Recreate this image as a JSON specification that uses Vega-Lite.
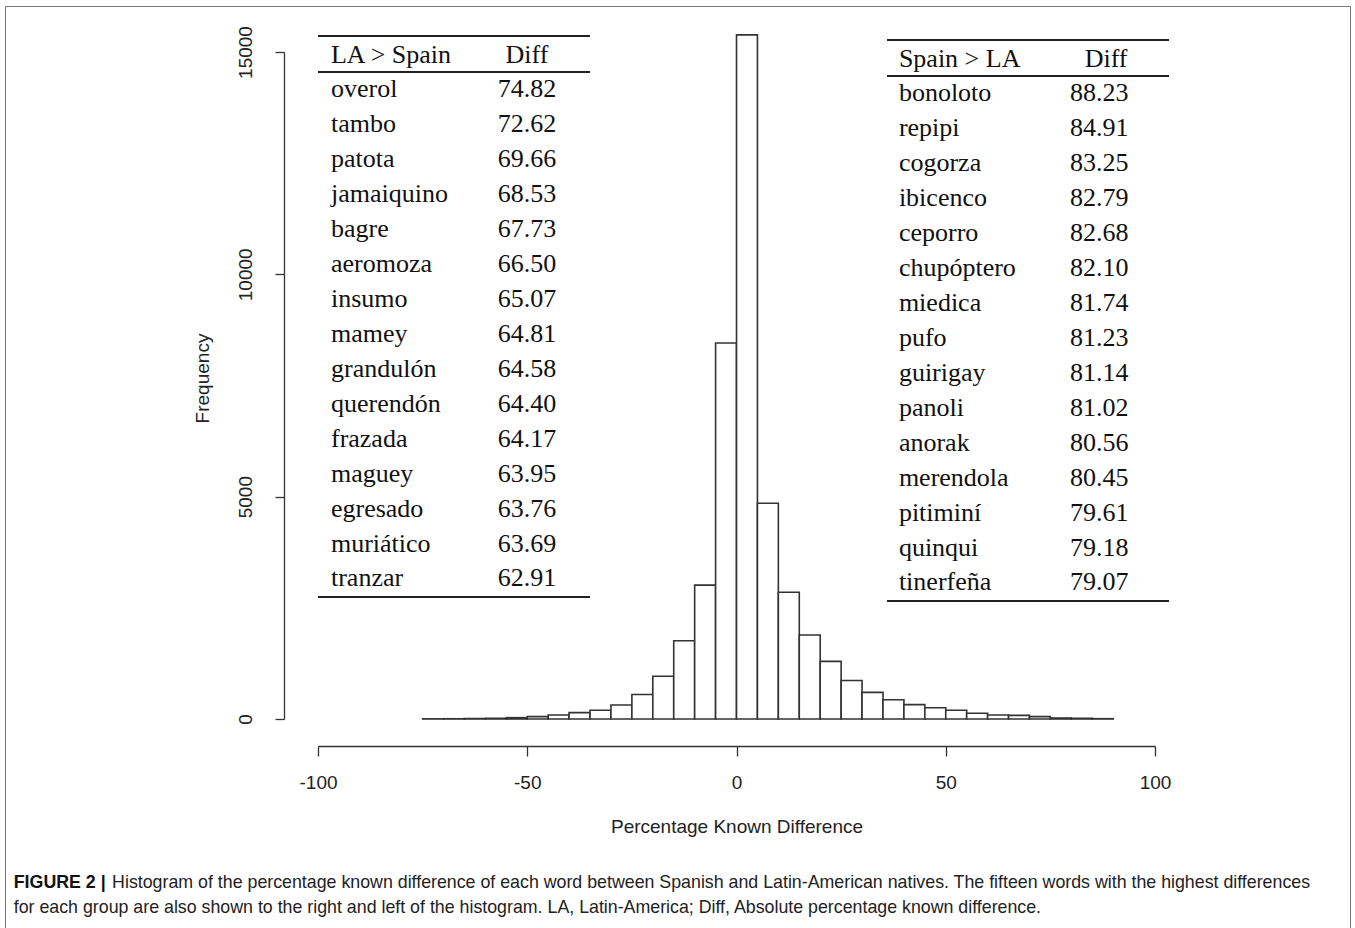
{
  "$schema": "https://vega.github.io/schema/vega-lite/v6.json",
  "width": 1345,
  "height": 923,
  "autosize": {"type": "none"},
  "padding": {"left": 5, "top": 6, "right": 5, "bottom": 0},
  "background": "white",
  "config": {"view": {"stroke": "#777", "strokeWidth": 1}, "font": "Liberation Sans"},
  "datasets": {
    "hist": [
      {"bin_start": -75, "bin_end": -70, "count": 3},
      {"bin_start": -70, "bin_end": -65, "count": 5},
      {"bin_start": -65, "bin_end": -60, "count": 10},
      {"bin_start": -60, "bin_end": -55, "count": 15},
      {"bin_start": -55, "bin_end": -50, "count": 30},
      {"bin_start": -50, "bin_end": -45, "count": 52},
      {"bin_start": -45, "bin_end": -40, "count": 90},
      {"bin_start": -40, "bin_end": -35, "count": 142},
      {"bin_start": -35, "bin_end": -30, "count": 195},
      {"bin_start": -30, "bin_end": -25, "count": 315},
      {"bin_start": -25, "bin_end": -20, "count": 550},
      {"bin_start": -20, "bin_end": -15, "count": 960},
      {"bin_start": -15, "bin_end": -10, "count": 1760},
      {"bin_start": -10, "bin_end": -5, "count": 3010},
      {"bin_start": -5, "bin_end": 0, "count": 8457},
      {"bin_start": 0, "bin_end": 5, "count": 15385},
      {"bin_start": 5, "bin_end": 10, "count": 4850},
      {"bin_start": 10, "bin_end": 15, "count": 2850},
      {"bin_start": 15, "bin_end": 20, "count": 1890},
      {"bin_start": 20, "bin_end": 25, "count": 1295},
      {"bin_start": 25, "bin_end": 30, "count": 865},
      {"bin_start": 30, "bin_end": 35, "count": 598},
      {"bin_start": 35, "bin_end": 40, "count": 434},
      {"bin_start": 40, "bin_end": 45, "count": 322},
      {"bin_start": 45, "bin_end": 50, "count": 254},
      {"bin_start": 50, "bin_end": 55, "count": 195},
      {"bin_start": 55, "bin_end": 60, "count": 128},
      {"bin_start": 60, "bin_end": 65, "count": 90},
      {"bin_start": 65, "bin_end": 70, "count": 82},
      {"bin_start": 70, "bin_end": 75, "count": 52},
      {"bin_start": 75, "bin_end": 80, "count": 22},
      {"bin_start": 80, "bin_end": 85, "count": 15},
      {"bin_start": 85, "bin_end": 90, "count": 7}
    ],
    "words": [
      {"side": "LA > Spain", "rank": 1, "word": "overol", "diff": 74.82},
      {"side": "LA > Spain", "rank": 2, "word": "tambo", "diff": 72.62},
      {"side": "LA > Spain", "rank": 3, "word": "patota", "diff": 69.66},
      {"side": "LA > Spain", "rank": 4, "word": "jamaiquino", "diff": 68.53},
      {"side": "LA > Spain", "rank": 5, "word": "bagre", "diff": 67.73},
      {"side": "LA > Spain", "rank": 6, "word": "aeromoza", "diff": 66.50},
      {"side": "LA > Spain", "rank": 7, "word": "insumo", "diff": 65.07},
      {"side": "LA > Spain", "rank": 8, "word": "mamey", "diff": 64.81},
      {"side": "LA > Spain", "rank": 9, "word": "grandulón", "diff": 64.58},
      {"side": "LA > Spain", "rank": 10, "word": "querendón", "diff": 64.40},
      {"side": "LA > Spain", "rank": 11, "word": "frazada", "diff": 64.17},
      {"side": "LA > Spain", "rank": 12, "word": "maguey", "diff": 63.95},
      {"side": "LA > Spain", "rank": 13, "word": "egresado", "diff": 63.76},
      {"side": "LA > Spain", "rank": 14, "word": "muriático", "diff": 63.69},
      {"side": "LA > Spain", "rank": 15, "word": "tranzar", "diff": 62.91},
      {"side": "Spain > LA", "rank": 1, "word": "bonoloto", "diff": 88.23},
      {"side": "Spain > LA", "rank": 2, "word": "repipi", "diff": 84.91},
      {"side": "Spain > LA", "rank": 3, "word": "cogorza", "diff": 83.25},
      {"side": "Spain > LA", "rank": 4, "word": "ibicenco", "diff": 82.79},
      {"side": "Spain > LA", "rank": 5, "word": "ceporro", "diff": 82.68},
      {"side": "Spain > LA", "rank": 6, "word": "chupóptero", "diff": 82.10},
      {"side": "Spain > LA", "rank": 7, "word": "miedica", "diff": 81.74},
      {"side": "Spain > LA", "rank": 8, "word": "pufo", "diff": 81.23},
      {"side": "Spain > LA", "rank": 9, "word": "guirigay", "diff": 81.14},
      {"side": "Spain > LA", "rank": 10, "word": "panoli", "diff": 81.02},
      {"side": "Spain > LA", "rank": 11, "word": "anorak", "diff": 80.56},
      {"side": "Spain > LA", "rank": 12, "word": "merendola", "diff": 80.45},
      {"side": "Spain > LA", "rank": 13, "word": "pitiminí", "diff": 79.61},
      {"side": "Spain > LA", "rank": 14, "word": "quinqui", "diff": 79.18},
      {"side": "Spain > LA", "rank": 15, "word": "tinerfeña", "diff": 79.07}
    ],
    "tables": [
      {"side": "LA > Spain", "column": "Diff"},
      {"side": "Spain > LA", "column": "Diff"}
    ],
    "caption": [
      {"label": "FIGURE 2 |", "line1": "Histogram of the percentage known difference of each word between Spanish and Latin-American natives. The fifteen words with the highest differences", "line2": "for each group are also shown to the right and left of the histogram. LA, Latin-America; Diff, Absolute percentage known difference."}
    ]
  },
  "layer": [
    {
      "data": {"name": "hist"},
      "mark": {"type": "bar", "fill": "white", "stroke": "#333", "strokeWidth": 1.6},
      "encoding": {
        "x": {
          "field": "bin_start",
          "type": "quantitative",
          "scale": {"domain": [-174.79, 146.59], "nice": false, "zero": false},
          "axis": {
            "values": [-100, -50, 0, 50, 100],
            "offset": -183,
            "grid": false,
            "domainDash": [837, 5000],
            "domainDashOffset": 5524,
            "domainColor": "#333",
            "domainWidth": 1.3,
            "tickColor": "#333",
            "tickWidth": 1.3,
            "tickSize": 10,
            "labelFont": "Liberation Sans",
            "labelFontSize": 19,
            "labelColor": "#222",
            "labelPadding": 17,
            "labelFlush": false,
            "labelOverlap": false,
            "labelExpr": "'' + datum.value",
            "title": "Percentage Known Difference",
            "titleFont": "Liberation Sans",
            "titleFontSize": 19,
            "titleFontWeight": "normal",
            "titleColor": "#222",
            "titlePadding": 25,
            "titleX": 731.5
          }
        },
        "x2": {"field": "bin_end"},
        "y": {
          "field": "count",
          "type": "quantitative",
          "scale": {"domain": [-4723, 16034], "nice": false, "zero": false},
          "axis": {
            "values": [0, 5000, 10000, 15000],
            "offset": -279,
            "grid": false,
            "domainDash": [667, 5000],
            "domainDashOffset": 5457,
            "domainColor": "#333",
            "domainWidth": 1.3,
            "tickColor": "#333",
            "tickWidth": 1.3,
            "tickSize": 9,
            "labelAngle": 270,
            "labelFont": "Liberation Sans",
            "labelFontSize": 19,
            "labelColor": "#222",
            "labelPadding": 20,
            "labelFlush": false,
            "labelOverlap": false,
            "labelExpr": "'' + datum.value",
            "title": "Frequency",
            "titleFont": "Liberation Sans",
            "titleFontSize": 19,
            "titleFontWeight": "normal",
            "titleColor": "#222",
            "titlePadding": 24,
            "titleY": 372
          }
        },
        "y2": {"datum": 0}
      }
    },
    {
      "layer": [
        {
          "data": {"name": "tables"},
          "transform": [{"filter": "datum.side === 'LA > Spain'"}],
          "mark": {"type": "rule", "strokeWidth": 2.2, "color": "#222"},
          "encoding": {
            "x": {"datum": -100.0},
            "x2": {"datum": -35.0},
            "y": {"datum": -0.73, "type": "quantitative", "scale": {"domain": [-1.589, 24.835], "reverse": true, "nice": false, "zero": false}, "axis": null}
          }
        },
        {
          "data": {"name": "tables"},
          "transform": [{"filter": "datum.side === 'LA > Spain'"}],
          "mark": {"type": "rule", "strokeWidth": 2.2, "color": "#222"},
          "encoding": {
            "x": {"datum": -100.0},
            "x2": {"datum": -35.0},
            "y": {"datum": 0.3, "type": "quantitative", "axis": null}
          }
        },
        {
          "data": {"name": "tables"},
          "transform": [{"filter": "datum.side === 'LA > Spain'"}],
          "mark": {"type": "rule", "strokeWidth": 2.2, "color": "#222"},
          "encoding": {
            "x": {"datum": -100.0},
            "x2": {"datum": -35.0},
            "y": {"datum": 15.33, "type": "quantitative", "axis": null}
          }
        },
        {
          "data": {"name": "tables"},
          "transform": [{"filter": "datum.side === 'Spain > LA'"}],
          "mark": {"type": "rule", "strokeWidth": 2.2, "color": "#222", "yOffset": 4},
          "encoding": {
            "x": {"datum": 35.96},
            "x2": {"datum": 103.35},
            "y": {"datum": -0.73, "type": "quantitative", "axis": null}
          }
        },
        {
          "data": {"name": "tables"},
          "transform": [{"filter": "datum.side === 'Spain > LA'"}],
          "mark": {"type": "rule", "strokeWidth": 2.2, "color": "#222", "yOffset": 4},
          "encoding": {
            "x": {"datum": 35.96},
            "x2": {"datum": 103.35},
            "y": {"datum": 0.3, "type": "quantitative", "axis": null}
          }
        },
        {
          "data": {"name": "tables"},
          "transform": [{"filter": "datum.side === 'Spain > LA'"}],
          "mark": {"type": "rule", "strokeWidth": 2.2, "color": "#222", "yOffset": 4},
          "encoding": {
            "x": {"datum": 35.96},
            "x2": {"datum": 103.35},
            "y": {"datum": 15.33, "type": "quantitative", "axis": null}
          }
        },
        {
          "data": {"name": "tables"},
          "transform": [{"filter": "datum.side === 'LA > Spain'"}],
          "mark": {"type": "text", "font": "Liberation Serif", "fontSize": 26, "color": "#111", "align": "left", "baseline": "alphabetic", "yOffset": 1},
          "encoding": {
            "x": {"datum": -96.9},
            "y": {"datum": 0, "type": "quantitative", "axis": null},
            "text": {"field": "side"}
          }
        },
        {
          "data": {"name": "tables"},
          "transform": [{"filter": "datum.side === 'LA > Spain'"}],
          "mark": {"type": "text", "font": "Liberation Serif", "fontSize": 26, "color": "#111", "align": "center", "baseline": "alphabetic", "yOffset": 1},
          "encoding": {
            "x": {"datum": -50.06},
            "y": {"datum": 0, "type": "quantitative", "axis": null},
            "text": {"field": "column"}
          }
        },
        {
          "data": {"name": "tables"},
          "transform": [{"filter": "datum.side === 'Spain > LA'"}],
          "mark": {"type": "text", "font": "Liberation Serif", "fontSize": 26, "color": "#111", "align": "left", "baseline": "alphabetic", "yOffset": 5},
          "encoding": {
            "x": {"datum": 38.8},
            "y": {"datum": 0, "type": "quantitative", "axis": null},
            "text": {"field": "side"}
          }
        },
        {
          "data": {"name": "tables"},
          "transform": [{"filter": "datum.side === 'Spain > LA'"}],
          "mark": {"type": "text", "font": "Liberation Serif", "fontSize": 26, "color": "#111", "align": "center", "baseline": "alphabetic", "yOffset": 5},
          "encoding": {
            "x": {"datum": 88.3},
            "y": {"datum": 0, "type": "quantitative", "axis": null},
            "text": {"field": "column"}
          }
        },
        {
          "data": {"name": "words"},
          "transform": [{"filter": "datum.side === 'LA > Spain'"}],
          "mark": {"type": "text", "font": "Liberation Serif", "fontSize": 26, "color": "#111", "align": "left", "baseline": "alphabetic", "yOffset": 1},
          "encoding": {
            "x": {"datum": -96.9},
            "y": {"field": "rank", "type": "quantitative", "axis": null},
            "text": {"field": "word"}
          }
        },
        {
          "data": {"name": "words"},
          "transform": [{"filter": "datum.side === 'LA > Spain'"}],
          "mark": {"type": "text", "font": "Liberation Serif", "fontSize": 26, "color": "#111", "align": "center", "baseline": "alphabetic", "yOffset": 1},
          "encoding": {
            "x": {"datum": -50.06},
            "y": {"field": "rank", "type": "quantitative", "axis": null},
            "text": {"field": "diff", "type": "quantitative", "format": ".2f"}
          }
        },
        {
          "data": {"name": "words"},
          "transform": [{"filter": "datum.side === 'Spain > LA'"}],
          "mark": {"type": "text", "font": "Liberation Serif", "fontSize": 26, "color": "#111", "align": "left", "baseline": "alphabetic", "yOffset": 5},
          "encoding": {
            "x": {"datum": 38.8},
            "y": {"field": "rank", "type": "quantitative", "axis": null},
            "text": {"field": "word"}
          }
        },
        {
          "data": {"name": "words"},
          "transform": [{"filter": "datum.side === 'Spain > LA'"}],
          "mark": {"type": "text", "font": "Liberation Serif", "fontSize": 26, "color": "#111", "align": "center", "baseline": "alphabetic", "yOffset": 5},
          "encoding": {
            "x": {"datum": 86.7},
            "y": {"field": "rank", "type": "quantitative", "axis": null},
            "text": {"field": "diff", "type": "quantitative", "format": ".2f"}
          }
        },
        {
          "data": {"name": "caption"},
          "mark": {"type": "text", "font": "Liberation Sans", "fontSize": 17.8, "fontWeight": "bold", "color": "#111", "align": "left", "baseline": "alphabetic"},
          "encoding": {
            "x": {"datum": -172.7},
            "y": {"datum": 23.66, "type": "quantitative", "axis": null},
            "text": {"field": "label"}
          }
        },
        {
          "data": {"name": "caption"},
          "mark": {"type": "text", "font": "Liberation Sans", "fontSize": 17.8, "color": "#222", "align": "left", "baseline": "alphabetic"},
          "encoding": {
            "x": {"datum": -149.2},
            "y": {"datum": 23.66, "type": "quantitative", "axis": null},
            "text": {"field": "line1"}
          }
        },
        {
          "data": {"name": "caption"},
          "mark": {"type": "text", "font": "Liberation Sans", "fontSize": 17.8, "color": "#222", "align": "left", "baseline": "alphabetic"},
          "encoding": {
            "x": {"datum": -172.7},
            "y": {"datum": 24.38, "type": "quantitative", "axis": null},
            "text": {"field": "line2"}
          }
        }
      ]
    }
  ],
  "resolve": {"scale": {"y": "independent"}}
}
